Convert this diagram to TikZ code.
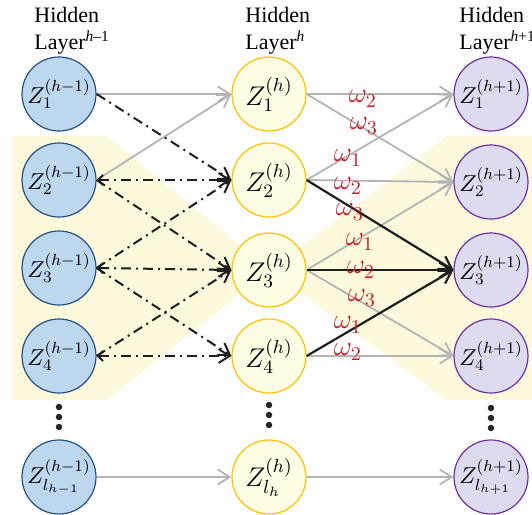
\RequirePackage{fix-cm}
\documentclass[tikz,border=0pt]{standalone}
\usepackage{fontspec}
\setmainfont{Liberation Serif}
\usetikzlibrary{arrows.meta}

\definecolor{bandyellow}{RGB}{252,249,221}
\definecolor{prevfill}{RGB}{189,215,238}
\definecolor{prevborder}{RGB}{38,82,128}
\definecolor{curfill}{RGB}{255,253,228}
\definecolor{curborder}{RGB}{255,192,0}
\definecolor{nextfill}{RGB}{221,219,240}
\definecolor{nextborder}{RGB}{112,48,160}
\definecolor{edgegray}{RGB}{180,180,180}
\definecolor{edgeblack}{RGB}{30,30,30}
\definecolor{weightred}{RGB}{200,30,40}

\begin{document}
\begin{tikzpicture}[x=0.5pt, y=-0.5pt,
  prevnode/.style={circle, draw=prevborder, fill=prevfill, line width=0.6pt, minimum size=37pt, inner sep=0pt, font=\fontsize{11.5}{13}\selectfont},
  curnode/.style={circle, draw=curborder, fill=curfill, line width=0.6pt, minimum size=37pt, inner sep=0pt, font=\fontsize{13.5}{15}\selectfont},
  nextnode/.style={circle, draw=nextborder, fill=nextfill, line width=0.6pt, minimum size=37pt, inner sep=0pt, font=\fontsize{11.5}{13}\selectfont},
  header/.style={align=left, inner sep=0pt, font=\fontsize{11}{13.5}\selectfont},
  weight/.style={text=weightred, inner sep=0pt, font=\fontsize{14}{16}\selectfont},
  dotmark/.style={circle, fill=black!85, inner sep=1.15pt},
  dashdot/.style={edgeblack, line width=1pt, dash pattern=on 5pt off 2.5pt on 1pt off 2.5pt},
  grayedge/.style={edgegray, line width=0.9pt, -{Straight Barb[length=6pt, width=7.5pt]}},
  blackedge/.style={edgeblack, line width=1.1pt, -{Straight Barb[length=6pt, width=7.5pt]}},
  headtip/.style={-{Straight Barb[length=5.5pt, width=7pt]}},
  bothtip/.style={{Straight Barb[length=2.5pt, width=5pt]}-{Straight Barb[length=5.5pt, width=7pt]}}]
  \useasboundingbox (0,0) rectangle (532,515);

  % draw yellow background band
  \fill[bandyellow] (12,136) -- (107,136) -- (270,270) -- (447,136) -- (540,136)
    -- (540,400) -- (447,400) -- (270,270) -- (107,400) -- (12,400) -- cycle;

  % draw layer headers
  \node[header, anchor=north west] (hdr_prev) at (34,7) {Hidden\\Layer\textsuperscript{\textit{h}–1}};
  \node[header, anchor=north west] (hdr_cur) at (245,7) {Hidden\\Layer\textsuperscript{\textit{h}}};
  \node[header, anchor=north west] (hdr_next) at (459,7) {Hidden\\Layer\textsuperscript{\textit{h}+1}};

  % draw previous layer cells
  \node[prevnode] (prev_pt1) at (59,94) {$Z_1^{(h-1)}$};
  \node[prevnode] (prev_pt2) at (59,180) {$Z_2^{(h-1)}$};
  \node[prevnode] (prev_pt3) at (59,268) {$Z_3^{(h-1)}$};
  \node[prevnode] (prev_pt4) at (59,356) {$Z_4^{(h-1)}$};
  \node[prevnode] (prev_ptl) at (59,477) {$Z_{l_{h-1}}^{(h-1)}$};
  \node[dotmark] (prev_dot1) at (59,407) {};
  \node[dotmark] (prev_dot2) at (59,417) {};
  \node[dotmark] (prev_dot3) at (59,427) {};

  % draw current layer cells
  \node[curnode] (cur_pt1) at (269,94) {$Z_1^{(h)}$};
  \node[curnode] (cur_pt2) at (269,180) {$Z_2^{(h)}$};
  \node[curnode] (cur_pt3) at (269,270) {$Z_3^{(h)}$};
  \node[curnode] (cur_pt4) at (269,356) {$Z_4^{(h)}$};
  \node[curnode] (cur_ptl) at (269,477) {$Z_{l_h}^{(h)}$};
  \node[dotmark] (cur_dot1) at (269,405) {};
  \node[dotmark] (cur_dot2) at (269,415) {};
  \node[dotmark] (cur_dot3) at (269,425) {};

  % draw next layer cells
  \node[nextnode] (next_pt1) at (491,94) {$Z_1^{(h+1)}$};
  \node[nextnode] (next_pt2) at (491,182) {$Z_2^{(h+1)}$};
  \node[nextnode] (next_pt3) at (491,270) {$Z_3^{(h+1)}$};
  \node[nextnode] (next_pt4) at (491,356) {$Z_4^{(h+1)}$};
  \node[nextnode] (next_ptl) at (491,477) {$Z_{l_{h+1}}^{(h+1)}$};
  \node[dotmark] (next_dot1) at (491,408) {};
  \node[dotmark] (next_dot2) at (491,418) {};
  \node[dotmark] (next_dot3) at (491,428) {};

  % draw gray links between previous and current layer
  \draw[grayedge] (prev_pt1.east) -- (cur_pt1.west);
  \draw[grayedge] (prev_pt2.east) -- (cur_pt1.west);
  \draw[grayedge] (prev_ptl.east) -- (cur_ptl.west);

  % draw dash-dotted links between previous and current layer
  \draw[dashdot, headtip] (prev_pt1.east) -- (cur_pt2.west);
  \draw[dashdot, bothtip] (prev_pt2.east) -- (cur_pt2.west);
  \draw[dashdot, headtip] (prev_pt2.east) -- (cur_pt3.west);
  \draw[dashdot, headtip] (prev_pt3.east) -- (cur_pt2.west);
  \draw[dashdot, bothtip] (prev_pt3.east) -- (cur_pt3.west);
  \draw[dashdot, headtip] (prev_pt3.east) -- (cur_pt4.west);
  \draw[dashdot, headtip] (prev_pt4.east) -- (cur_pt3.west);
  \draw[dashdot, bothtip] (prev_pt4.east) -- (cur_pt4.west);

  % draw weighted links between current and next layer
  \draw[grayedge] (cur_pt1.east) -- (next_pt1.west);
  \draw[grayedge] (cur_pt1.east) -- (next_pt2.west);
  \draw[grayedge] (cur_pt2.east) -- (next_pt1.west);
  \draw[grayedge] (cur_pt2.east) -- (next_pt2.west);
  \draw[grayedge] (cur_pt3.east) -- (next_pt2.west);
  \draw[grayedge] (cur_pt3.east) -- (next_pt4.west);
  \draw[grayedge] (cur_pt4.east) -- (next_pt4.west);
  \draw[grayedge] (cur_ptl.east) -- (next_ptl.west);
  \draw[blackedge] (cur_pt2.east) -- (next_pt3.west);
  \draw[blackedge] (cur_pt3.east) -- (next_pt3.west);
  \draw[blackedge] (cur_pt4.east) -- (next_pt3.west);

  % draw red weight labels
  \node[weight] (w_row1_2) at (363,99) {$\omega_2$};
  \node[weight] (w_row1_3) at (364,126) {$\omega_3$};
  \node[weight] (w_row2_1) at (348,158) {$\omega_1$};
  \node[weight] (w_row2_2) at (348,186) {$\omega_2$};
  \node[weight] (w_row2_3) at (350,212) {$\omega_3$};
  \node[weight] (w_row3_1) at (360,242) {$\omega_1$};
  \node[weight] (w_row3_2) at (361,270) {$\omega_2$};
  \node[weight] (w_row3_3) at (362,298) {$\omega_3$};
  \node[weight] (w_row4_1) at (348,325) {$\omega_1$};
  \node[weight] (w_row4_2) at (348,352) {$\omega_2$};
\end{tikzpicture}
\end{document}
